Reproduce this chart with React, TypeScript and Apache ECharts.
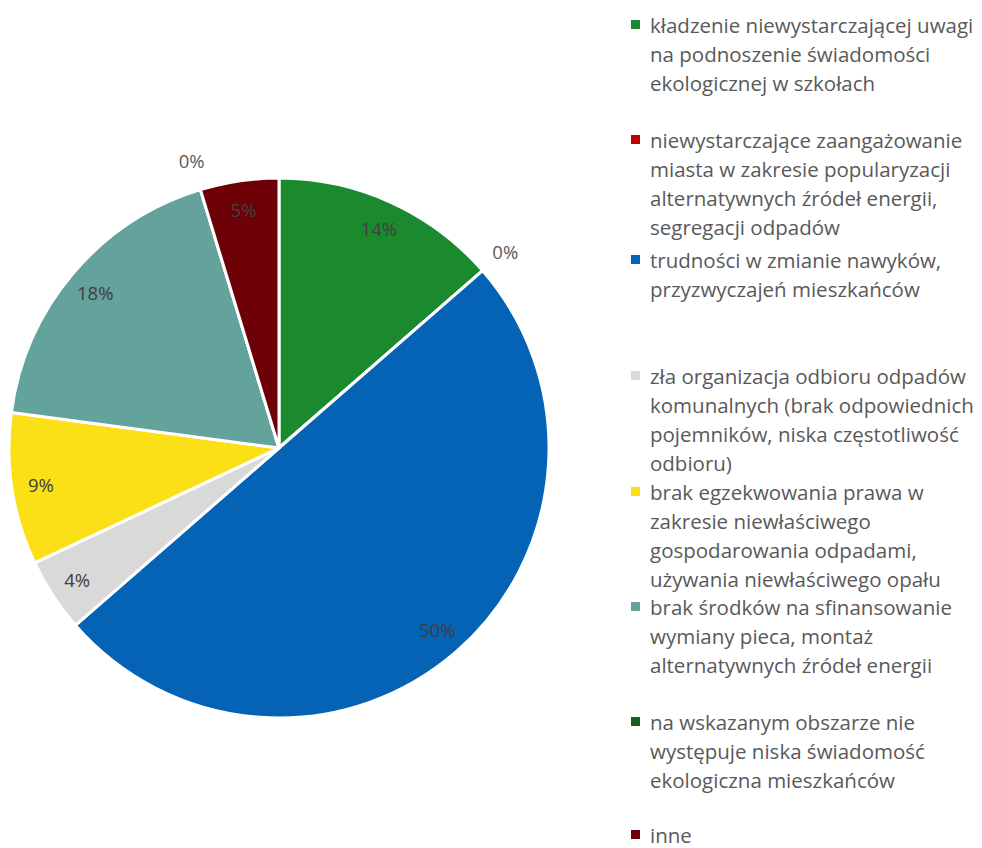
import React, { useEffect, useRef } from "react";
import * as echarts from "echarts";

const categoryLines: string[][] = [
  ["kładzenie niewystarczającej uwagi", "na podnoszenie świadomości", "ekologicznej w szkołach"],
  ["niewystarczające zaangażowanie", "miasta w zakresie popularyzacji", "alternatywnych źródeł energii,", "segregacji odpadów"],
  ["trudności w zmianie nawyków,", "przyzwyczajeń mieszkańców"],
  ["zła organizacja odbioru odpadów", "komunalnych (brak odpowiednich", "pojemników, niska częstotliwość", "odbioru)"],
  ["brak egzekwowania prawa w", "zakresie niewłaściwego", "gospodarowania odpadami,", "używania niewłaściwego opału"],
  ["brak środków na sfinansowanie", "wymiany pieca, montaż", "alternatywnych źródeł energii"],
  ["na wskazanym obszarze nie", "występuje niska świadomość", "ekologiczna mieszkańców"],
  ["inne"],
];
const categories: string[] = categoryLines.map((l) => l.join(" "));
const values: number[] = [13.6, 0, 50.0, 4.4, 9.1, 18.2, 0, 4.7];
const colors: string[] = ["#1b8a2e", "#c00000", "#0563b5", "#d9d9d9", "#fbe018", "#63a39c", "#1a5e1f", "#6e0008"];
const legendLineCenters: number[] = [26, 141, 261, 377, 493, 608, 723, 836];

const FONT = "Open Sans";
const LINE_H = 29;
const MARK = 9;

export default function App() {
  const ref = useRef<HTMLDivElement>(null);
  useEffect(() => {
    if (!ref.current) return;
    const chart = echarts.init(ref.current, null, { renderer: "svg" });
    const pct = (p: any) => Math.round(p.percent) + "%";
    const center = [279, 448];
    const legends = categories.map((name, i) => {
      const n = categoryLines[i].length;
      const h = MARK + (n - 1) * LINE_H;
      const icon =
        n === 1
          ? "rect"
          : `path://M0,0h${MARK}v${MARK}h-${MARK}zM0,${h}L0.01,${h}`;
      return {
        show: true,
        data: [name],
        left: 631,
        top: legendLineCenters[i] - 16,
        orient: "vertical",
        padding: 0,
        itemWidth: MARK,
        itemHeight: h,
        itemGap: 0,
        icon,
        selectedMode: false,
        itemStyle: { borderWidth: 0 },
        formatter: (nm: string) => categoryLines[categories.indexOf(nm)].join("\n"),
        textStyle: {
          color: "#595959",
          fontSize: 20.5,
          fontFamily: FONT,
          lineHeight: LINE_H,
          padding: [0, 0, 0, 5],
        },
      };
    });
    chart.setOption({
      animation: false,
      color: colors,
      legend: legends,
      series: [
        {
          type: "pie",
          center,
          radius: 270,
          startAngle: 90,
          clockwise: true,
          avoidLabelOverlap: false,
          label: { show: false },
          labelLine: { show: false },
          emphasis: { disabled: true },
          itemStyle: { borderColor: "#ffffff", borderWidth: 3 },
          data: categories.map((name, i) => ({ name, value: values[i], itemStyle: { color: colors[i] } })),
        },
        {
          type: "pie",
          center,
          radius: [206, 270],
          startAngle: 90,
          clockwise: true,
          silent: true,
          avoidLabelOverlap: false,
          emphasis: { disabled: true },
          itemStyle: { color: "rgba(0,0,0,0)", borderWidth: 0 },
          labelLine: { show: false },
          label: {
            show: true,
            position: "inside",
            formatter: pct,
            color: "#404040",
            fontSize: 18.5,
            fontFamily: FONT,
          },
          data: categories.map((name, i) => ({
            name,
            value: values[i],
            label: { show: values[i] > 0 },
          })),
        },
        {
          type: "pie",
          center,
          radius: [282, 312],
          startAngle: 90,
          clockwise: true,
          silent: true,
          avoidLabelOverlap: false,
          emphasis: { disabled: true },
          itemStyle: { color: "rgba(0,0,0,0)", borderWidth: 0 },
          labelLine: { show: false },
          label: {
            show: true,
            position: "inside",
            formatter: pct,
            color: "#595959",
            fontSize: 18.5,
            fontFamily: FONT,
          },
          data: categories.map((name, i) => ({
            name,
            value: values[i],
            label: { show: values[i] === 0 },
          })),
        },
      ],
    });
    return () => chart.dispose();
  }, []);
  return (
    <div
      ref={ref}
      style={{ position: "fixed", left: 0, top: 0, width: 982, height: 848, background: "#ffffff" }}
    />
  );
}
